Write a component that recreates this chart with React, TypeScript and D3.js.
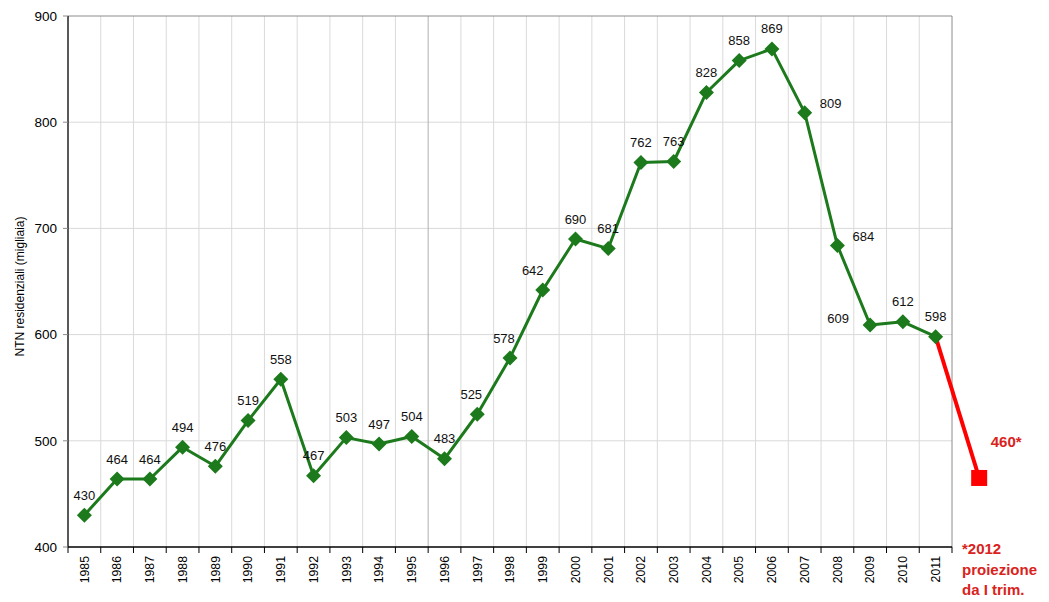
import React from "react";
import * as d3 from "d3";

const years = [
  "1985", "1986", "1987", "1988", "1989", "1990", "1991", "1992", "1993",
  "1994", "1995", "1996", "1997", "1998", "1999", "2000", "2001", "2002",
  "2003", "2004", "2005", "2006", "2007", "2008", "2009", "2010", "2011",
];
const ntnValues = [
  430, 464, 464, 494, 476, 519, 558, 467, 503, 497, 504, 483, 525, 578, 642,
  690, 681, 762, 763, 828, 858, 869, 809, 684, 609, 612, 598,
];
// label placement keyword per point
const labelPlacement = [
  "above", "above", "above", "above", "above", "above", "above", "above", "above",
  "above", "above", "above", "aboveLeft", "aboveLeft", "aboveLeftMore", "above", "above", "above",
  "above", "above", "above", "above", "right", "right", "left", "above", "above",
];
const yTicks = [400, 500, 600, 700, 800, 900];
const projectionValue = 465;
const projectionLabel = "460*";
const footnoteLines = ["*2012", "proiezione", "da I trim."];
const yAxisTitle = "NTN residenziali (migliaia)";

const W = 1049;
const H = 602;
const M = { left: 68, right: 97, top: 16, bottom: 55 };
const GREEN = "#1c7a1c";
const RED = "#ff0000";
const RED_TEXT = "#d9231c";
const FONT = "Liberation Sans, Arial, sans-serif";

export default function App() {
  const plotW = W - M.left - M.right;
  const plotH = H - M.top - M.bottom;
  const x = d3
    .scaleBand<string>()
    .domain(years)
    .range([M.left, M.left + plotW])
    .paddingInner(0)
    .paddingOuter(0);
  const step = x.step();
  const cx = (y: string) => (x(y) as number) + step / 2;
  const y = d3.scaleLinear().domain([400, 900]).range([M.top + plotH, M.top]);

  const line = d3
    .line<number>()
    .x((_, i) => cx(years[i]))
    .y((v) => y(v));

  const boundaries = d3.range(1, years.length).map((i) => M.left + i * step);
  const lastX = cx(years[years.length - 1]);
  const lastY = y(ntnValues[ntnValues.length - 1]);
  const projX = lastX + step * 1.33;
  const projY = y(projectionValue);

  const offsets: Record<string, [number, number]> = {
    above: [0, -20],
    aboveLeft: [-6, -20],
    aboveLeftMore: [-10, -20],
    right: [26, -9],
    left: [-32, -7],
  };

  const diamond = (px: number, py: number, r: number) =>
    `M${px},${py - r}L${px + r},${py}L${px},${py + r}L${px - r},${py}Z`;

  return (
    <svg
      width={W}
      height={H}
      style={{ position: "absolute", left: 0, top: 0, background: "#fff" }}
      fontFamily={FONT}
    >
      {/* horizontal gridlines */}
      {yTicks.slice(1, -1).map((t) => (
        <line key={"h" + t} x1={M.left} x2={M.left + plotW} y1={y(t)} y2={y(t)} stroke="#d9d9d9" strokeWidth={1} />
      ))}
      {/* vertical gridlines */}
      {boundaries.map((bx, i) => (
        <line
          key={"v" + i}
          x1={bx}
          x2={bx}
          y1={M.top}
          y2={M.top + plotH}
          stroke={i === 10 ? "#b0b0b0" : "#dadada"}
          strokeWidth={1}
        />
      ))}
      {/* top and right frame */}
      <line x1={M.left} x2={M.left + plotW} y1={M.top} y2={M.top} stroke="#8c8c8c" strokeWidth={1} />
      <line x1={M.left + plotW} x2={M.left + plotW} y1={M.top} y2={M.top + plotH} stroke="#8c8c8c" strokeWidth={1} />
      {/* axes */}
      <line x1={M.left} x2={M.left} y1={M.top} y2={M.top + plotH} stroke="#000" strokeWidth={1.3} />
      <line x1={M.left} x2={M.left + plotW} y1={M.top + plotH} y2={M.top + plotH} stroke="#000" strokeWidth={1.3} />
      {yTicks.map((t) => (
        <g key={"yt" + t}>
          <line x1={M.left - 5} x2={M.left} y1={y(t)} y2={y(t)} stroke="#8c8c8c" />
          <text x={M.left - 11} y={y(t)} dy="0.35em" textAnchor="end" fontSize={13.5} fill="#000">
            {t}
          </text>
        </g>
      ))}
      {[M.left, ...boundaries, M.left + plotW].map((bx, i) => (
        <line key={"xt" + i} x1={bx} x2={bx} y1={M.top + plotH} y2={M.top + plotH + 6} stroke="#000" />
      ))}
      {years.map((yr) => (
        <text
          key={"xl" + yr}
          transform={`translate(${cx(yr)},${M.top + plotH + 9}) rotate(-90)`}
          dy="0.35em"
          textAnchor="end"
          fontSize={12.3}
          fill="#000"
        >
          {yr}
        </text>
      ))}
      <text
        transform={`translate(20,${M.top + plotH / 2 + 5}) rotate(-90)`}
        dy="0.35em"
        textAnchor="middle"
        fontSize={12}
        fill="#000"
      >
        {yAxisTitle}
      </text>

      {/* projection */}
      <line x1={lastX} y1={lastY} x2={projX} y2={projY} stroke={RED} strokeWidth={4} />
      <rect x={projX - 8} y={projY - 8} width={16} height={16} fill={RED} />
      <text x={projX + 27} y={projY - 36} dy="0.35em" textAnchor="middle" fontSize={15} fontWeight="bold" fill={RED_TEXT}>
        {projectionLabel}
      </text>
      {footnoteLines.map((l, i) => (
        <text key={"fn" + i} x={962} y={M.top + plotH + 2 + i * 20.5} dy="0.35em" fontSize={15} fontWeight="bold" fill={RED_TEXT}>
          {l}
        </text>
      ))}

      {/* main series */}
      <path d={line(ntnValues) || ""} fill="none" stroke={GREEN} strokeWidth={3} strokeLinejoin="round" />
      {ntnValues.map((v, i) => (
        <path key={"m" + i} d={diamond(cx(years[i]), y(v), 7.5)} fill={GREEN} />
      ))}
      {ntnValues.map((v, i) => {
        const [dx, dy] = offsets[labelPlacement[i]];
        return (
          <text
            key={"l" + i}
            x={cx(years[i]) + dx}
            y={y(v) + dy}
            dy="0.35em"
            textAnchor="middle"
            fontSize={13}
            fill="#111"
          >
            {v}
          </text>
        );
      })}
    </svg>
  );
}
